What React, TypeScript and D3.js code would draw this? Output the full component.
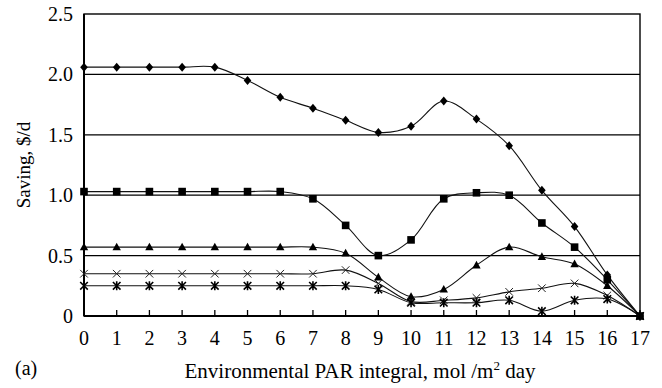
import React from "react";
import * as d3 from "d3";

const WIDTH = 662;
const HEIGHT = 388;
const M = { left: 84, right: 22, top: 14, bottom: 72 };

const parValues = [0, 1, 2, 3, 4, 5, 6, 7, 8, 9, 10, 11, 12, 13, 14, 15, 16, 17];
const yTicks = [0, 0.5, 1.0, 1.5, 2.0, 2.5];

const diamondSeries = [2.06, 2.06, 2.06, 2.06, 2.06, 1.95, 1.81, 1.72, 1.62, 1.52, 1.57, 1.78, 1.63, 1.41, 1.04, 0.74, 0.34, 0];
const squareSeries = [1.03, 1.03, 1.03, 1.03, 1.03, 1.03, 1.03, 0.97, 0.75, 0.5, 0.63, 0.97, 1.02, 1.0, 0.77, 0.57, 0.3, 0];
const triangleSeries = [0.57, 0.57, 0.57, 0.57, 0.57, 0.57, 0.57, 0.57, 0.52, 0.32, 0.16, 0.22, 0.42, 0.57, 0.49, 0.43, 0.25, 0];
const crossSeries = [0.35, 0.35, 0.35, 0.35, 0.35, 0.35, 0.35, 0.35, 0.38, 0.27, 0.12, 0.13, 0.15, 0.2, 0.23, 0.27, 0.17, 0];
const starSeries = [0.25, 0.25, 0.25, 0.25, 0.25, 0.25, 0.25, 0.25, 0.25, 0.22, 0.11, 0.11, 0.11, 0.13, 0.04, 0.13, 0.14, 0];

const series = [
  { key: "diamond", values: diamondSeries },
  { key: "square", values: squareSeries },
  { key: "triangle", values: triangleSeries },
  { key: "cross", values: crossSeries },
  { key: "star", values: starSeries },
];

const FONT = "Liberation Serif, Times New Roman, Times, DejaVu Serif, serif";
const txt = { fontFamily: FONT, fill: "#000" };

function Marker({ kind, x, y }: { kind: string; x: number; y: number }) {
  if (kind === "diamond") {
    return <path d={`M${x},${y - 4.5}L${x + 3.8},${y}L${x},${y + 4.5}L${x - 3.8},${y}Z`} fill="#000" />;
  }
  if (kind === "square") {
    return <rect x={x - 3.8} y={y - 3.8} width={7.6} height={7.6} fill="#000" />;
  }
  if (kind === "triangle") {
    return <path d={`M${x},${y - 4.5}L${x + 4.2},${y + 3.2}L${x - 4.2},${y + 3.2}Z`} fill="#000" />;
  }
  if (kind === "cross") {
    return (
      <path
        d={`M${x - 3.8},${y - 3.8}L${x + 3.8},${y + 3.8}M${x + 3.8},${y - 3.8}L${x - 3.8},${y + 3.8}`}
        stroke="#222"
        strokeWidth={1}
      />
    );
  }
  // asterisk
  return (
    <path
      d={`M${x - 3.8},${y - 3.8}L${x + 3.8},${y + 3.8}M${x + 3.8},${y - 3.8}L${x - 3.8},${y + 3.8}M${x},${y - 4.5}L${x},${y + 4.5}`}
      stroke="#000"
      strokeWidth={1.6}
    />
  );
}

export default function App() {
  const x = d3
    .scaleLinear()
    .domain([0, 17])
    .range([M.left, WIDTH - M.right]);
  const y = d3
    .scaleLinear()
    .domain([0, 2.5])
    .range([HEIGHT - M.bottom, M.top]);

  const line = d3
    .line<number>()
    .x((_, i) => x(parValues[i]))
    .y((d) => y(d))
    .curve(d3.curveCatmullRom.alpha(0.5));

  const plotBottom = y(0);

  return (
    <svg
      width={WIDTH}
      height={HEIGHT}
      style={{ position: "absolute", left: 0, top: 0, background: "#fff" }}
    >
      {/* gridlines */}
      {yTicks.slice(1, -1).map((t) => (
        <line key={t} x1={x(0)} x2={x(17)} y1={y(t)} y2={y(t)} stroke="#000" strokeWidth={1.3} />
      ))}
      {/* frame */}
      <rect
        x={x(0)}
        y={y(2.5)}
        width={x(17) - x(0)}
        height={y(0) - y(2.5)}
        fill="none"
        stroke="#000"
        strokeWidth={1.4}
      />
      <line x1={x(0)} x2={x(17)} y1={plotBottom} y2={plotBottom} stroke="#000" strokeWidth={2} />
      <line x1={x(0)} x2={x(0)} y1={y(2.5)} y2={plotBottom} stroke="#000" strokeWidth={2} />

      {/* x ticks inside */}
      {parValues.map((v) => (
        <line key={v} x1={x(v)} x2={x(v)} y1={plotBottom} y2={plotBottom - 6} stroke="#000" strokeWidth={1.3} />
      ))}

      {/* series */}
      {series.map((s) => (
        <g key={s.key}>
          <path d={line(s.values) || ""} fill="none" stroke="#111" strokeWidth={1.1} />
          {s.values.map((v, i) => (
            <Marker key={i} kind={s.key} x={x(parValues[i])} y={y(v)} />
          ))}
        </g>
      ))}

      {/* y tick labels */}
      {yTicks.map((t) => (
        <text key={t} x={x(0) - 11} y={y(t)} dy="0.35em" textAnchor="end" fontSize={20} style={txt}>
          {t === 0 ? "0" : t.toFixed(1)}
        </text>
      ))}

      {/* x tick labels */}
      {parValues.map((v) => (
        <text key={v} x={x(v)} y={plotBottom + 22} dy="0.35em" textAnchor="middle" fontSize={20} style={txt}>
          {v}
        </text>
      ))}

      {/* axis titles */}
      <text
        transform={`translate(23, ${(y(0) + y(2.5)) / 2}) rotate(-90)`}
        textAnchor="middle"
        dy="0.35em"
        fontSize={19}
        style={txt}
      >
        Saving, $/d
      </text>
      <text x={360} y={378} textAnchor="middle" fontSize={21} style={txt}>
        Environmental PAR integral, mol /m
        <tspan dy={-8} fontSize={13}>2</tspan>
        <tspan dy={8}> day</tspan>
      </text>
      <text x={15} y={375} fontSize={20} style={txt}>
        (a)
      </text>
    </svg>
  );
}
